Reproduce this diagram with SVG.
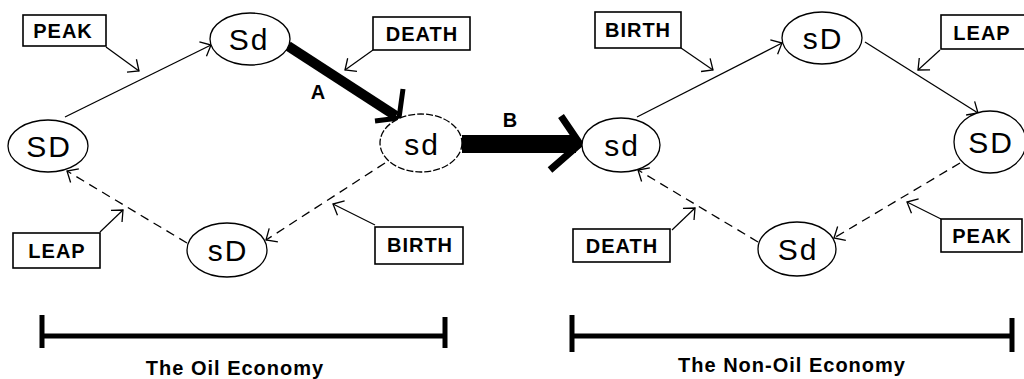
<svg xmlns="http://www.w3.org/2000/svg" width="1024" height="379" viewBox="0 0 1024 379">
<style>
.node ellipse{fill:#fff;stroke:#000;stroke-width:1.3}
.node text{font-family:"Liberation Sans",Arial,sans-serif;font-size:30px;letter-spacing:2px;text-anchor:middle;fill:#000}
.lbl rect{fill:#fff;stroke:#000;stroke-width:1.6}
.lbl text{font-family:"Liberation Sans",Arial,sans-serif;font-weight:bold;font-size:20px;letter-spacing:1px;text-anchor:middle;fill:#000}
.c{fill:none;stroke:#000;stroke-width:1.3}
.d{stroke-dasharray:9,6}
.p{fill:none;stroke:#000;stroke-width:1.2}
.t{font-family:"Liberation Sans",Arial,sans-serif;font-weight:bold;font-size:20px;fill:#000}
</style>
<defs>
<marker id="ah" markerUnits="userSpaceOnUse" viewBox="-12 -10 14 20" refX="0" refY="0" markerWidth="14" markerHeight="20" orient="auto">
<path d="M-9,-8 L0,0 L-9,8" fill="none" stroke="#000" stroke-width="1.3"/>
</marker>
</defs>
<rect width="1024" height="379" fill="#fff"/>
<g id="connectors">
<line class="c" x1="65" y1="117" x2="211" y2="45" marker-end="url(#ah)"/>
<line class="c d" x1="385" y1="163" x2="266" y2="240" marker-end="url(#ah)"/>
<line class="c d" x1="187" y1="243" x2="67" y2="171" marker-end="url(#ah)"/>
<line class="p" x1="106" y1="47" x2="139" y2="71" marker-end="url(#ah)"/>
<line class="p" x1="373" y1="50" x2="345" y2="70" marker-end="url(#ah)"/>
<line class="p" x1="100" y1="232" x2="123" y2="210" marker-end="url(#ah)"/>
<line class="p" x1="375" y1="225" x2="333" y2="204" marker-end="url(#ah)"/>
<line class="c" x1="637" y1="117" x2="782" y2="43" marker-end="url(#ah)"/>
<line class="c" x1="865" y1="42" x2="978" y2="113" marker-end="url(#ah)"/>
<line class="c d" x1="960" y1="163" x2="834" y2="238" marker-end="url(#ah)"/>
<line class="c d" x1="758" y1="242" x2="638" y2="170" marker-end="url(#ah)"/>
<line class="p" x1="681" y1="48" x2="713" y2="70" marker-end="url(#ah)"/>
<line class="p" x1="940" y1="50" x2="918" y2="70" marker-end="url(#ah)"/>
<line class="p" x1="672" y1="230" x2="695" y2="208" marker-end="url(#ah)"/>
<line class="p" x1="941" y1="219" x2="907" y2="202" marker-end="url(#ah)"/>
<g id="arrowA">
<line x1="288" y1="46" x2="396" y2="116" stroke="#000" stroke-width="10"/>
<path d="M403,89 L399,118 L375,121" fill="none" stroke="#000" stroke-width="5"/>
</g>
<g id="arrowB">
<line x1="462" y1="144" x2="576" y2="144" stroke="#000" stroke-width="18"/>
<path d="M561,116 L580,144 L550,170" fill="none" stroke="#000" stroke-width="7"/>
</g>
<text class="t" x="318" y="99" text-anchor="middle">A</text>
<text class="t" x="510" y="127" text-anchor="middle">B</text>
</g>
<g id="node-SD-left" class="node"><ellipse cx="48" cy="146" rx="40" ry="26"/><text x="49" y="157">SD</text></g>
<g id="node-Sd-top-left" class="node"><ellipse cx="250" cy="39" rx="40" ry="26"/><text x="249" y="50">Sd</text></g>
<g id="node-sd-mid" class="node"><ellipse cx="421" cy="143" rx="41" ry="29" stroke-dasharray="7,2"/><text x="422" y="155">sd</text></g>
<g id="node-sD-bottom-left" class="node"><ellipse cx="227" cy="250" rx="40" ry="27"/><text x="228" y="261">sD</text></g>
<g id="node-sd-right" class="node"><ellipse cx="621" cy="145" rx="39" ry="27"/><text x="622" y="156">sd</text></g>
<g id="node-sD-top-right" class="node"><ellipse cx="822" cy="38" rx="40" ry="26"/><text x="823" y="49">sD</text></g>
<g id="node-SD-right" class="node"><ellipse cx="990" cy="142" rx="36" ry="31"/><text x="991" y="153">SD</text></g>
<g id="node-Sd-bottom-right" class="node"><ellipse cx="797" cy="249" rx="39" ry="27"/><text x="798" y="260">Sd</text></g>
<g id="lbl-peak-left" class="lbl"><rect x="23" y="15" width="83" height="31"/><text x="63" y="38">PEAK</text></g>
<g id="lbl-death-top" class="lbl"><rect x="373" y="17" width="97" height="33"/><text x="422" y="41">DEATH</text></g>
<g id="lbl-leap-left" class="lbl"><rect x="13" y="233" width="87" height="35"/><text x="57" y="258">LEAP</text></g>
<g id="lbl-birth-bottom" class="lbl"><rect x="375" y="227" width="88" height="37"/><text x="420" y="252">BIRTH</text></g>
<g id="lbl-birth-top" class="lbl"><rect x="595" y="12" width="86" height="36"/><text x="638" y="37">BIRTH</text></g>
<g id="lbl-leap-right" class="lbl"><rect x="941" y="15" width="90" height="34"/><text x="982" y="40">LEAP</text></g>
<g id="lbl-death-bottom" class="lbl"><rect x="573" y="229" width="97" height="33"/><text x="622" y="253">DEATH</text></g>
<g id="lbl-peak-right" class="lbl"><rect x="941" y="219" width="81" height="33"/><text x="982" y="243">PEAK</text></g>
<g id="scale-oil">
<line x1="42" y1="336" x2="445" y2="336" stroke="#000" stroke-width="5"/>
<line x1="42" y1="315" x2="42" y2="348" stroke="#000" stroke-width="5"/>
<line x1="445" y1="317" x2="445" y2="348" stroke="#000" stroke-width="5"/>
<text class="t" x="235" y="375" text-anchor="middle" letter-spacing="1">The Oil Economy</text>
</g>
<g id="scale-nonoil">
<line x1="572" y1="336" x2="1012" y2="336" stroke="#000" stroke-width="5"/>
<line x1="572" y1="315" x2="572" y2="352" stroke="#000" stroke-width="5"/>
<line x1="1012" y1="318" x2="1012" y2="352" stroke="#000" stroke-width="5"/>
<text class="t" x="792" y="372" text-anchor="middle" letter-spacing="1">The Non-Oil Economy</text>
</g>
</svg>
